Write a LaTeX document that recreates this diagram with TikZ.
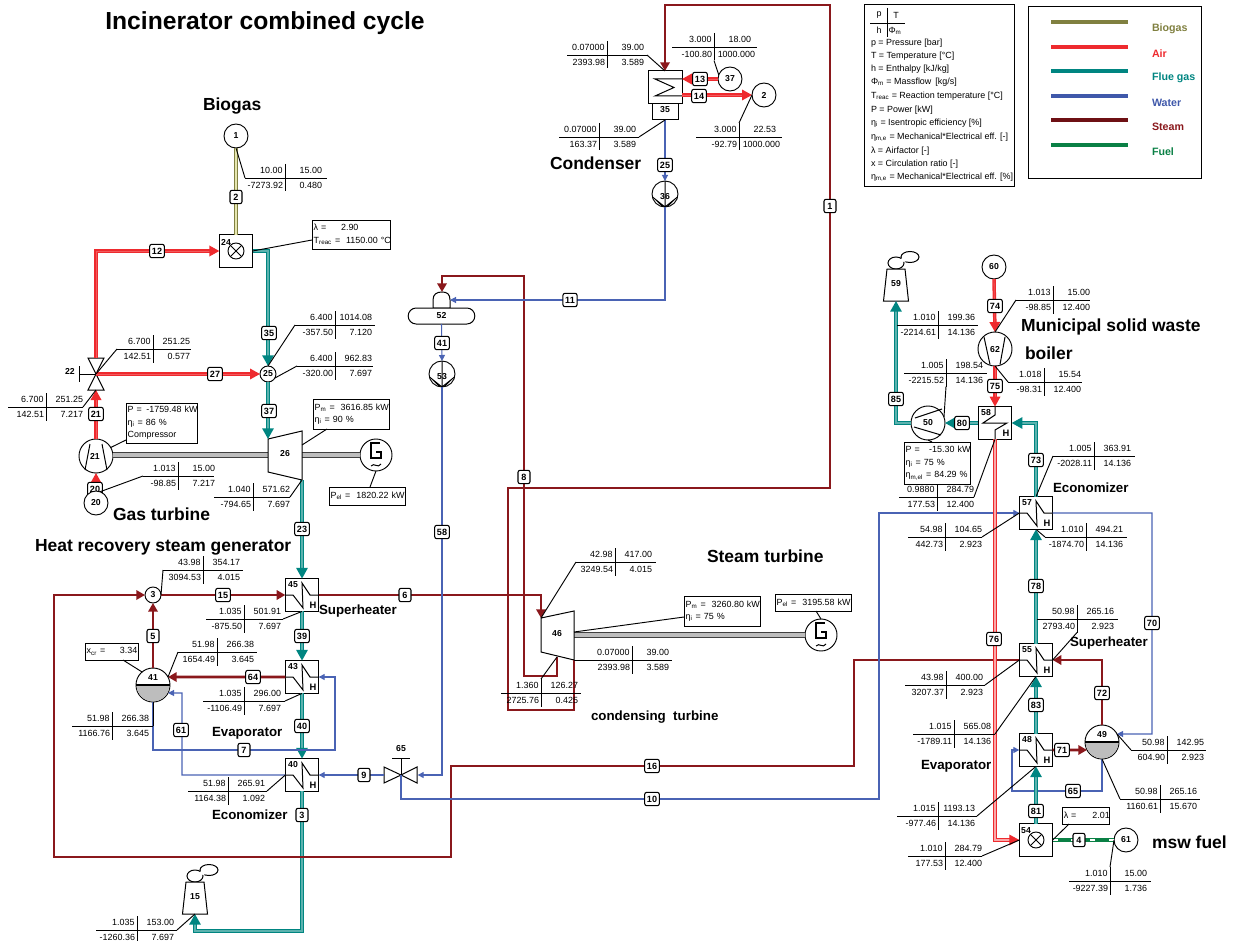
\documentclass[tikz,border=0pt]{standalone}
\usepackage{fontspec}
\setmainfont{Liberation Sans}
\usetikzlibrary{arrows.meta}
\definecolor{bgasC}{HTML}{808040}
\definecolor{bgasL}{HTML}{E6E6B0}
\definecolor{airC}{HTML}{EE2A2E}
\definecolor{airL}{HTML}{F25A5D}
\definecolor{airP}{HTML}{F9A8A8}
\definecolor{flueC}{HTML}{008581}
\definecolor{flueL}{HTML}{5CB2AE}
\definecolor{waterC}{HTML}{4A63B4}
\definecolor{steamC}{HTML}{8A181C}
\definecolor{fuelC}{HTML}{0A8045}
\definecolor{legSteam}{HTML}{6E1014}
\definecolor{legWater}{HTML}{3F58AA}
\definecolor{shaftC}{HTML}{BDBDBD}
\pgfdeclarelayer{under}
\pgfsetlayers{under,main}
\newcommand\fs[2]{\fontsize{#1}{#2}\selectfont}
\newcommand\sbs[1]{\textsubscript{#1}}
\tikzset{
  x=0.75pt,y=-0.75pt,
  dtxt/.style={font=\fs{6.7}{8},inner sep=0,outer sep=0},
  numlbl/.style={font=\bfseries\fs{6.5}{8},inner sep=0,outer sep=0},
  ttl/.style={font=\bfseries\fs{13.1}{15},inner sep=0,outer sep=0,anchor=west},
  subttl/.style={font=\bfseries\fs{10}{12},inner sep=0,outer sep=0,anchor=west},
  badge/.style={draw,fill=white,line width=0.8pt,rounded corners=1.5pt,font=\bfseries\fs{6.8}{7},inner xsep=1.7pt,inner ysep=1.7pt,outer sep=0,minimum height=10pt,minimum width=9pt},
  circ/.style={draw,fill=white,circle,line width=0.7pt,inner sep=0,outer sep=0,font=\bfseries\fs{6.5}{8},minimum size=#1*0.75pt},
  hxb/.style={draw,fill=white,line width=0.75pt,inner sep=0,outer sep=0,minimum width=25pt,minimum height=24.6pt},
  sbox/.style={draw,line width=0.75pt,inner sep=0,outer sep=0,fill=white},
  vbox/.style={inner sep=0,outer sep=0,minimum width=#1},
  lead/.style={line width=0.7pt,black},
  dbox/.style={draw,fill=white,line width=0.7pt,inner xsep=1.3pt,inner ysep=0pt,outer sep=0,align=left,font=\fs{6.7}{9.4},anchor=north west},
  glyph/.style={line width=0.75pt,line join=miter},
  bgas/.style={draw=bgasC,double=bgasL,line width=1pt,double distance=1.1pt},
  air/.style={draw=airC,double=airL,line width=1pt,double distance=0.6pt,-{Triangle[length=7.5pt,width=8pt,fill=airC]}},
  airw/.style={draw=airC,double=airP,line width=0.85pt,double distance=1.7pt,-{Triangle[length=7.5pt,width=8pt,fill=airC]}},
  flue/.style={draw=flueC,double=flueL,line width=1.35pt,double distance=0.9pt,-{Triangle[length=8pt,width=8.5pt,fill=flueC]}},
  steam/.style={draw=steamC,line width=2.2pt,-{Triangle[length=6.5pt,width=7pt,fill=steamC]}},
  water/.style={draw=waterC,line width=0.8pt,-{Triangle[length=4.5pt,width=4.5pt,fill=waterC]}},
  fuel/.style={draw=fuelC,line width=3.2pt,postaction={draw=white,line width=1.2pt,dash pattern=on 4pt off 10pt}},
  shaft/.style={draw=black!75,double=shaftC,line width=0.6pt,double distance=2.6pt},
  legline/.style={line width=2.4pt},
  legtxt/.style={font=\bfseries\fs{8}{10},inner sep=0,outer sep=0,anchor=west},
  ktxt/.style={font=\fs{6.7}{8},inner sep=0,outer sep=0,anchor=west},
}
% id, x, y, left end, right end, p, T, h, m
\newcommand\dtab[9]{%
  \coordinate (#1L) at (#4,#3);\coordinate (#1R) at (#5,#3);
  \coordinate (#1T) at (#2,#3-14);\coordinate (#1B) at (#2,#3+13.5);
  \draw[line width=0.7pt] (#1L) -- (#1R);
  \draw[line width=0.7pt] (#1T) -- (#1B);
  \node[dtxt,anchor=base east] (#1a) at (#2-2.5,#3-4.5) {#6};
  \node[dtxt,anchor=base east] (#1b) at (#2+37,#3-4.5) {#7};
  \node[dtxt,anchor=base east] (#1e) at (#2-2,#3+10.5) {#8};
  \node[dtxt,anchor=base east] (#1d) at (#2+37,#3+10.5) {#9};
}
\newcommand\heatx[4]{% name, x, y, number
  \node[hxb] (#1) at (#2,#3) {};
  \draw[glyph,shift={(#2,#3)}] (-17,0) -- (-9,0) -- (1,13) -- (0,-12) -- (8,0) -- (17,0);
  \node[numlbl] (#1n) at (#2-9,#3-10) {#4};
  \node[numlbl,font=\bfseries\fs{7}{8}] (#1h) at (#2+11,#3+10) {H};
}
\newcommand\genr[3]{% name, x, y
  \node[circ=32] (#1) at (#2,#3) {};
  \draw[glyph,line width=0.9pt,shift={(#2,#3)}] (4,-12) -- (-5,-12) -- (-5,3) -- (5,3) -- (5,-3) -- (0,-3);
  \draw[glyph,shift={(#2,#3)}] (-5,11) .. controls (-2,7) and (2,14) .. (5,9);
}
\newcommand\pumpc[4]{% name, x, y, number
  \node[circ=26] (#1) at (#2,#3) {};
  \draw[glyph,shift={(#2,#3)}] (0,-13) -- (0,13) (-12.5,3) -- (0,13) -- (12.5,3) (-9,6) -- (-3,12) (9,6) -- (3,12);
  \node[numlbl] (#1n) at (#2,#3+3) {#4};
}
\newcommand\combu[4]{% name, x, y, number
  \node[hxb] (#1) at (#2,#3) {};
  \node[circ=16] (#1o) at (#2,#3) {};
  \draw[glyph,shift={(#2,#3)}] (-5.6,-5.6) -- (5.6,5.6) (-5.6,5.6) -- (5.6,-5.6);
  \node[numlbl] (#1n) at (#2-10,#3-9) {#4};
}
\newcommand\drumv[4]{% name, x, y, number
  \node[circ=34] (#1) at (#2,#3) {};
  \begin{scope}
    \clip (#2-20,#3) rectangle (#2+20,#3+20);
    \fill[shaftC] (#2,#3) circle[radius=16.4];
  \end{scope}
  \draw[line width=1.2pt] (#1.west) -- (#1.east);
  \node[numlbl] (#1n) at (#2,#3-7) {#4};
}
\newcommand\stackc[4]{% name, x, y(top), number
  \draw[glyph,fill=white,shift={(#2,#3)}] (14,-12) ellipse[x radius=9,y radius=5.5];
  \draw[glyph,fill=white,shift={(#2,#3)}] (0,-6) ellipse[x radius=8,y radius=6];
  \fill[white,shift={(#2,#3)}] (8,-9.5) ellipse[x radius=3,y radius=2.5];
  \coordinate (#1b) at (#2,#3+32);
  \draw[glyph,fill=white,shift={(#2,#3)}] (-9,0) -- (9,0) -- (12.5,32) -- (-12.5,32) -- cycle;
  \node[numlbl] (#1n) at (#2,#3+15) {#4};
}
\begin{document}
\begin{tikzpicture}
\useasboundingbox (0,0) rectangle (1234,941);
% ---- titles
\node[font=\bfseries\fs{18.5}{20},inner sep=0,anchor=west] (title) at (105,23) {Incinerator combined cycle};
\node[ttl] (tBio) at (203,106) {Biogas};
\node[ttl] (tGas) at (113,514) {Gas turbine};
\node[ttl] (tHrsg) at (35,547) {Heat recovery steam generator};
\node[subttl] (tSup1) at (319,611) {Superheater};
\node[subttl] (tEva1) at (212,733) {Evaporator};
\node[subttl] (tEco1) at (212,815) {Economizer};
\node[ttl] (tCond) at (550,163) {Condenser};
\node[ttl] (tStm) at (707,556) {Steam turbine};
\node[subttl] (tCT) at (591,717) {condensing\ \ turbine};
\node[ttl] (tMsw) at (1021,327) {Municipal solid waste};
\node[ttl] (tBoil) at (1025,353) {boiler};
\node[subttl] (tEco2) at (1053,488) {Economizer};
\node[subttl] (tSup2) at (1070,643) {Superheater};
\node[subttl] (tEva2) at (921,766) {Evaporator};
\node[ttl] (tFuel) at (1152,842) {msw fuel};
% ---- key box
\node[draw,line width=1pt,inner sep=0,minimum width=112.5pt,minimum height=136.5pt,anchor=north west] (key) at (864,4) {};
\draw[line width=0.7pt] (870,23) -- (905,23);
\draw[line width=0.7pt] (887,8) -- (887,37);
\node[dtxt] (kp) at (879,15) {p};
\node[dtxt] (kT) at (896,15) {T};
\node[dtxt] (kh) at (879,30) {h};
\node[dtxt] (kf) at (895,31) {Φ\sbs{m}};
\node[ktxt] (k1) at (871,43) {p = Pressure [bar]};
\node[ktxt] (k2) at (871,56) {T = Temperature [°C]};
\node[ktxt] (k3) at (871,69) {h = Enthalpy [kJ/kg]};
\node[ktxt] (k4) at (871,82) {Φ\sbs{m} = Massflow\, [kg/s]};
\node[ktxt] (k5) at (871,96) {T\sbs{reac} = Reaction temperature [°C]};
\node[ktxt] (k6) at (871,110) {P = Power [kW]};
\node[ktxt] (k7) at (871,123) {η\sbs{i} = Isentropic efficiency [\%]};
\node[ktxt] (k8) at (871,137) {η\sbs{m,e} = Mechanical*Electrical eff. [-]};
\node[ktxt] (k9) at (871,151) {λ = Airfactor [-]};
\node[ktxt] (k10) at (871,164) {x = Circulation ratio [-]};
\node[ktxt] (k11) at (871,177) {η\sbs{m,e} = Mechanical*Electrical eff. [\%]};
% ---- legend box
\node[draw,line width=1pt,inner sep=0,minimum width=129.75pt,minimum height=129pt,anchor=north west] (leg) at (1028,6) {};
\draw[legline,bgasC] (1051,22) -- (1128,22);
\draw[legline,airC] (1051,47) -- (1128,47);
\draw[legline,flueC] (1051,71) -- (1128,71);
\draw[legline,legWater] (1051,96) -- (1128,96);
\draw[legline,legSteam] (1051,120) -- (1128,120);
\draw[legline,fuelC] (1051,145) -- (1128,145);
\node[legtxt,text=bgasC] (l1) at (1152,29) {Biogas};
\node[legtxt,text=airC] (l2) at (1152,54) {Air};
\node[legtxt,text=flueC] (l3) at (1152,78) {Flue gas};
\node[legtxt,text=legWater] (l4) at (1152,103) {Water};
\node[legtxt,text=steamC] (l5) at (1152,127) {Steam};
\node[legtxt,text=fuelC] (l6) at (1152,152) {Fuel};
% ---- components: gas turbine
\node[circ=24] (n1) at (236,136) {1};
\combu{c24}{236}{251}{24}
\node[circ=16] (n25) at (268,374) {25};
\node[vbox=12pt,minimum height=24pt] (v22) at (96,374) {};
\draw[glyph,fill=white] (v22.center) -- (88,358) -- (104,358) -- cycle;
\draw[glyph,fill=white] (v22.center) -- (88,390) -- (104,390) -- cycle;
\draw[glyph] (v22.center) -- (79,374) (79,366) -- (79,382);
\node[numlbl] (v22n) at (70,371) {22};
\node[circ=34] (c21) at (96,456) {};
\draw[glyph] (90,444) -- (85,470) (102,444) -- (107,470);
\node[numlbl] (c21n) at (95,456) {21};
\node[circ=24] (n20) at (96,503) {20};
\coordinate (t26in) at (268,439);
\coordinate (t26out) at (302,480);
\genr{g26}{376}{455}
\draw[shaft] (c21.east |- 0,455) -- (268,455);
\draw[shaft] (302,455) -- (g26.west);
\draw[glyph,fill=white] (t26in) -- (302,431) -- (t26out) -- (268,472) -- cycle;
\node[numlbl] (t26n) at (285,454) {26};
% ---- HRSG
\heatx{hx45}{302}{595}{45}
\heatx{hx43}{302}{677}{43}
\heatx{hx40}{302}{775}{40}
\node[circ=16] (n3) at (153,595) {3};
\drumv{d41}{153}{685}{41}
\node[vbox=25pt,minimum height=12pt] (v65) at (401,775) {};
\draw[glyph,fill=white] (v65.center) -- (384,767) -- (384,783) -- cycle;
\draw[glyph,fill=white] (v65.center) -- (417,767) -- (417,783) -- cycle;
\draw[glyph] (v65.center) -- (401,758) (392,758) -- (410,758);
\node[numlbl] (v65n) at (401,749) {65};
\stackc{st15}{195}{882}{15}
% ---- condenser side
\node[sbox,minimum width=25.5pt,minimum height=24.75pt] (cnd) at (665,87.5) {};
\node[sbox,minimum width=19.5pt,minimum height=12pt] (cnd2) at (665,112) {};
\node[numlbl] (cndn) at (665,110) {35};
\draw[glyph] (682,79) -- (655,79) -- (674,87.5) -- (655,96) -- (682,96);
\node[circ=24] (n37) at (730,79) {37};
\node[circ=24] (n2) at (764,95) {2};
\pumpc{p36}{665}{194}{36}
\pumpc{p53}{442}{374}{53}
\coordinate (c52in) at (450,300);
\coordinate (c52top) at (442,292);
\draw[glyph,fill=white] (433,308) -- (433,300) .. controls (433,294) and (437,292) .. (c52top) .. controls (447,292) and (450,294) .. (c52in) -- (450,308) -- cycle;
\node[draw,fill=white,line width=0.75pt,rounded corners=6pt,minimum width=50pt,minimum height=12pt,inner sep=0,outer sep=0,numlbl] (d52) at (441.5,316) {52};
% ---- steam turbine
\coordinate (t46in) at (541,618);
\coordinate (t46out) at (574,660);
\coordinate (t46bot) at (557,657);
\genr{g46}{821}{635}
\draw[shaft] (574,635) -- (g46.west);
\draw[glyph,fill=white] (t46in) -- (574,611) -- (t46out) -- (541,652) -- cycle;
\node[numlbl] (t46n) at (557,634) {46};
% ---- MSW boiler
\stackc{st59}{896}{269}{59}
\node[circ=24] (n60) at (994,267) {60};
\node[circ=34] (f62) at (995,349) {};
\draw[glyph] (984,337) -- (990,364.5) (1005,337) -- (1000,364.5);
\node[numlbl] (f62n) at (995,350) {62};
\node[circ=34] (p50) at (928,423) {};
\draw[glyph] (915,418) -- (942,409) (914,427) -- (941,435);
\node[numlbl] (p50n) at (928,423) {50};
\node[hxb] (hx58) at (995,423) {};
\draw[glyph] (hx58.north) -- (995,415) -- (983,423) -- (1007,423) -- (995,430) -- (hx58.south);
\node[numlbl] (hx58n) at (986,413) {58};
\node[numlbl,font=\bfseries\fs{7}{8}] (hx58h) at (1006,433) {H};
\heatx{hx57}{1036}{513}{57}
\heatx{hx55}{1036}{660}{55}
\heatx{hx48}{1036}{750}{48}
\drumv{d49}{1102}{742}{49}
\combu{c54}{1036}{840}{54}
\node[circ=24] (n61) at (1126,840) {61};
% ---- route corners
\coordinate (c7) at (335,750);
\coordinate (c61) at (182,693);
\coordinate (c16a) at (854,766);
\coordinate (c16b) at (451,857);
\coordinate (c16c) at (54,595);
\coordinate (c10) at (879,799);
\coordinate (c8a) at (524,676);
\coordinate (c8b) at (524,276);
\coordinate (c1a) at (508,710);
\coordinate (c1b) at (830,488);
\coordinate (c1c) at (830,5);
\coordinate (c3) at (302,931);
\coordinate (c65) at (1012,791);
\coordinate (c70) at (1152,734);
% ---- streams
\begin{pgfonlayer}{under}
\draw[air] (n20.north) -- (c21.south);
\node[badge] (b20) at (95,489) {20};
\end{pgfonlayer}
\draw[bgas] (n1.south) -- (c24.north);
\draw[air] (v22.north) |- (c24.west);
\draw[air] (v22.center) -- (n25.west);
\draw[air] (c21.north) -- (v22.south);
\draw[flue] (c24.east) -| (n25.north);
\draw[flue] (n25.south) -- (t26in);
\draw[flue] (t26out) -- (hx45.north);
\draw[flue] (hx45.south) -- (hx43.north);
\draw[flue] (hx43.south) -- (hx40.north);
\draw[flue] (hx40.south) -- (c3) -| (st15b);
\draw[steam] (n3.east) -- (hx45.west);
\draw[steam] (d41.north) -- (n3.south);
\draw[steam] (hx43.west) -- (d41.28);
\draw[steam] (hx45.east) -| (t46in);
\draw[steam] (hx55.west) -| (c16a) -| (c16b) -| (c16c) -- (n3.west);
\draw[steam] (t46bot) |- (c8a) -- (c8b) -| (c52top);
\draw[steam] (t46out) |- (c1a) |- (c1b) -- (c1c) -| (cnd.north);
\draw[steam] (d49.north) |- (hx55.east);
\draw[steam] (hx48.east) -- (d49.208);
\draw[water] (d41.south) |- (c7) |- (hx43.east);
\draw[water] (hx40.west) -| (c61) -- (d41.-28);
\draw[water] (v65.west) -- (hx40.east);
\draw[water] (p53.south) |- (v65.east);
\draw[water] (v65.center) |- (c10) |- (hx57.west);
\draw[water] (d52.south) -- (p53.north);
\draw[water] (p36.south) |- (c52in);
\draw[water] (cnd2.south) -- (p36.north);
\draw[water] (hx57.east) -| (c70) -- (d49.28);
\draw[water] (d49.south) |- (c65) |- (hx48.west);
\draw[air] (n37.west) -- (n37.west -| cnd.east);
\draw[air] (cnd.east |- n2.west) -- (n2.west);
\draw[air] (n60.south) -- (f62.north);
\draw[air] (f62.south) -- (hx58.north);
\draw[airw] (hx58.south) |- (c54.west);
\draw[flue] (hx57.north) |- (hx58.east);
\draw[flue] (hx58.west) -- (p50.east);
\draw[flue] (p50.west) -| (st59b);
\draw[flue] (hx55.north) -- (hx57.south);
\draw[flue] (hx48.north) -- (hx55.south);
\draw[flue] (c54.north) -- (hx48.south);
\draw[fuel] (n61.west) -- (c54.east);
% ---- data tables
\dtab{tA}{285}{178}{245}{327}{10.00}{15.00}{-7273.92}{0.480}
\dtab{tB}{335}{325}{295}{375}{6.400}{1014.08}{-357.50}{7.120}
\dtab{tC}{335}{366}{297}{373}{6.400}{962.83}{-320.00}{7.697}
\dtab{tD}{153}{349}{117}{191}{6.700}{251.25}{142.51}{0.577}
\dtab{tE}{46}{407}{8}{83}{6.700}{251.25}{142.51}{7.217}
\dtab{tF}{178}{476}{143}{214}{1.013}{15.00}{-98.85}{7.217}
\dtab{tG}{253}{497}{214}{290}{1.040}{571.62}{-794.65}{7.697}
\dtab{tH}{203}{570}{163}{243}{43.98}{354.17}{3094.53}{4.015}
\dtab{tI}{244}{619}{206}{283}{1.035}{501.91}{-875.50}{7.697}
\dtab{tJ}{217}{652}{178}{257}{51.98}{266.38}{1654.49}{3.645}
\dtab{tK}{244}{701}{203}{285}{1.035}{296.00}{-1106.49}{7.697}
\dtab{tM}{112}{726}{72}{153}{51.98}{266.38}{1166.76}{3.645}
\dtab{tN}{228}{791}{188}{267}{51.98}{265.91}{1164.38}{1.092}
\dtab{tO}{137}{930}{96}{177}{1.035}{153.00}{-1260.36}{7.697}
\dtab{tP}{607}{55}{567}{647}{0.07000}{39.00}{2393.98}{3.589}
\dtab{tQ}{714}{47}{672}{757}{3.000}{18.00}{-100.80}{1000.000\kern-3pt}
\dtab{tS}{599}{137}{559}{639}{0.07000}{39.00}{163.37}{3.589}
\dtab{tU}{739}{137}{696}{782}{3.000}{22.53}{-92.79}{1000.000\kern-3pt}
\dtab{tV}{1053}{300}{1016}{1090}{1.013}{15.00}{-98.85}{12.400}
\dtab{tW}{938}{325}{897}{978}{1.010}{199.36}{-2214.61}{14.136}
\dtab{tX}{946}{373}{904}{987}{1.005}{198.54}{-2215.52}{14.136}
\dtab{tY}{1044}{382}{1008}{1082}{1.018}{15.54}{-98.31}{12.400}
\dtab{tZ}{1094}{456}{1053}{1135}{1.005}{363.91}{-2028.11}{14.136}
\dtab{ua}{937}{497}{899}{974}{0.9880}{284.79}{177.53}{12.400}
\dtab{ub}{945}{537}{908}{982}{54.98}{104.65}{442.73}{2.923}
\dtab{uc}{1086}{537}{1045}{1127}{1.010}{494.21}{-1874.70}{14.136}
\dtab{ud}{1077}{619}{1037}{1118}{50.98}{265.16}{2793.40}{2.923}
\dtab{ue}{946}{685}{905}{985}{43.98}{400.00}{3207.37}{2.923}
\dtab{uf}{954}{734}{913}{995}{1.015}{565.08}{-1789.11}{14.136}
\dtab{ug}{938}{816}{897}{977}{1.015}{1193.13}{-977.46}{14.136}
\dtab{uh}{945}{856}{908}{982}{1.010}{284.79}{177.53}{12.400}
\dtab{ui}{1167}{750}{1131}{1206}{50.98}{142.95}{604.90}{2.923}
\dtab{uj}{1160}{799}{1120}{1200}{50.98}{265.16}{1160.61}{15.670}
\dtab{uk}{1110}{881}{1069}{1151}{1.010}{15.00}{-9227.39}{1.736}
\dtab{ul}{615}{562}{576}{656}{42.98}{417.00}{3249.54}{4.015}
\dtab{um}{632}{660}{574}{672}{0.07000}{39.00}{2393.98}{3.589}
\dtab{un}{541}{693}{501}{581}{1.360}{126.27}{2725.76}{0.425}
% ---- leaders
\draw[lead] (tAL) -- (n1.south);
\draw[lead] (tBL) -- (n25.north);
\draw[lead] (tCL) -- (n25.-30);
\draw[lead] (tDL) -- (v22.center);
\draw[lead] (tER) -- (v22.south);
\draw[lead] (tFL) -- (n20.70);
\draw[lead] (tGR) -- (t26out);
\draw[lead] (tHL) -- (n3.east);
\draw[lead] (tIR) -- (hx45.south);
\draw[lead] (tJL) -- (d41.28);
\draw[lead] (tKR) -- (hx43.south);
\draw[lead] (tMR) -- (d41.south);
\draw[lead] (tNR) -- (hx40.west);
\draw[lead] (tOR) -- (st15b);
\draw[lead] (tPR) -- (cnd.north);
\draw[lead] (tQB) -- (n37.160);
\draw[lead] (tSR) -- (cnd2.south);
\draw[lead] (tUT) -- (n2.west);
\draw[lead] (tVL) -- (f62.north);
\draw[lead] (tXB) -- (p50.20);
\draw[lead] (tYL) -- (f62.south);
\draw[lead] (tZL) -- (hx57.north);
\draw[lead] (uaR) -- (hx58.south);
\draw[lead] (ubR) -- (hx57.west);
\draw[lead] (ucL) -- (hx57.south);
\draw[lead] (udB) -- (hx55.east);
\draw[lead] (ueR) -- (hx55.west);
\draw[lead] (ufR) -- (hx55.south);
\draw[lead] (ugR) -- (hx48.south);
\draw[lead] (uhR) -- (c54.west);
\draw[lead] (uiL) -- (d49.28);
\draw[lead] (ujL) -- (d49.south);
\draw[lead] (ukT) -- (n61.west);
\draw[lead] (ulL) -- (t46in);
\draw[lead] (unT) -- (t46bot);
% ---- parameter boxes
\node[dbox,minimum width=58.5pt,minimum height=21.75pt,text width=55.9pt] (bLam) at (312,220) {\mbox{λ =\hspace{11pt}2.90}\\\mbox{T\sbs{reac} =\ \ 1150.00 °C}};
\node[dbox,minimum width=53.25pt,minimum height=30pt,text width=50.65pt] (bCmp) at (126,403) {\mbox{P =\ \,-1759.48 kW}\\\mbox{η\sbs{i} = 86 \%}\\\mbox{Compressor}};
\node[dbox,minimum width=57pt,minimum height=22.5pt,text width=54.4pt] (bT26) at (313,399) {\mbox{P\sbs{m} =\ \ 3616.85 kW}\\\mbox{η\sbs{i} = 90 \%}};
\node[dbox,minimum width=57pt,minimum height=13.5pt,text width=54.4pt] (bG26) at (329,487) {\mbox{P\sbs{el} =\ \ 1820.22 kW}};
\node[dbox,minimum width=39.75pt,minimum height=12.75pt,text width=37.15pt] (bXcr) at (85,643) {\mbox{x\sbs{cr} =\hspace{11pt}3.34}};
\node[dbox,minimum width=57pt,minimum height=22.5pt,text width=54.4pt] (bT46) at (684,596) {\mbox{P\sbs{m} =\ \ 3260.80 kW}\\\mbox{η\sbs{i} = 75 \%}};
\node[dbox,minimum width=57pt,minimum height=12.75pt,text width=54.4pt] (bG46) at (775,594) {\mbox{P\sbs{el} =\ \ 3195.58 kW}};
\node[dbox,minimum width=49.5pt,minimum height=31.5pt,text width=46.9pt] (bP50) at (904,442) {\mbox{P =\hspace{7pt}-15.30 kW}\\\mbox{η\sbs{i} = 75 \%}\\\mbox{η\sbs{m,el} = 84.29 \%}};
\node[dbox,minimum width=35.25pt,minimum height=12.75pt,text width=32.65pt] (bL54) at (1062,807) {\mbox{λ =\hspace{12pt}2.01}};
\coordinate (bLama) at (312,240);
\coordinate (bCmpa) at (126,440);
\coordinate (bT26a) at (327,429);
\coordinate (t26s) at (302,445);
\coordinate (bG26a) at (370,487);
\coordinate (bXcra) at (123,660);
\coordinate (bT46a) at (684,617);
\coordinate (t46s) at (574,632);
\coordinate (bG46a) at (816,611);
\coordinate (bL54a) at (1069,824);
\coordinate (bP50a) at (932,442);
\draw[lead] (bLama) -- (c24.east);
\draw[lead] (bCmpa) -- (c21.30);
\draw[lead] (bT26a) -- (t26s);
\draw[lead] (bG26a) -- (g26.south);
\draw[lead] (bXcra) -- (d41.130);
\draw[lead] (bT46a) -- (t46s);
\draw[lead] (bG46a) -- (g46.north);
\draw[lead] (bL54a) -- (c54.east);
\draw[lead] (bP50a) -- (p50.south);
% ---- stream numbers
\node[badge] (b2) at (236,197) {2};
\node[badge] (b12) at (157,251) {12};
\node[badge] (b27) at (215,374) {27};
\node[badge] (b35) at (269,333) {35};
\node[badge] (b37) at (269,411) {37};
\node[badge] (b21) at (96,414) {21};
\node[badge] (b23) at (302,529) {23};
\node[badge] (b15) at (223,595) {15};
\node[badge] (b6) at (405,595) {6};
\node[badge] (b5) at (153,636) {5};
\node[badge] (b39) at (302,636) {39};
\node[badge] (b64) at (253,677) {64};
\node[badge] (b40) at (302,726) {40};
\node[badge] (b61) at (181,730) {61};
\node[badge] (b7) at (244,750) {7};
\node[badge] (b9) at (364,775) {9};
\node[badge] (b3) at (302,815) {3};
\node[badge] (b58) at (442,532) {58};
\node[badge] (b8) at (524,477) {8};
\node[badge] (b41) at (442,343) {41};
\node[badge] (b11) at (570,300) {11};
\node[badge] (b25) at (665,165) {25};
\node[badge] (b13) at (700,79) {13};
\node[badge] (b14) at (699,96) {14};
\node[badge] (b1) at (830,206) {1};
\node[badge] (b16) at (652,766) {16};
\node[badge] (b10) at (652,799) {10};
\node[badge] (b74) at (995,306) {74};
\node[badge] (b75) at (995,386) {75};
\node[badge] (b80) at (962,423) {80};
\node[badge] (b85) at (896,399) {85};
\node[badge] (b73) at (1036,460) {73};
\node[badge] (b78) at (1036,586) {78};
\node[badge] (b70) at (1152,623) {70};
\node[badge] (b76) at (994,639) {76};
\node[badge] (b83) at (1036,705) {83};
\node[badge] (b72) at (1102,693) {72};
\node[badge] (b71) at (1062,750) {71};
\node[badge] (b65) at (1073,791) {65};
\node[badge] (b81) at (1036,811) {81};
\node[badge] (b4) at (1079,840) {4};
\end{tikzpicture}
\end{document}
